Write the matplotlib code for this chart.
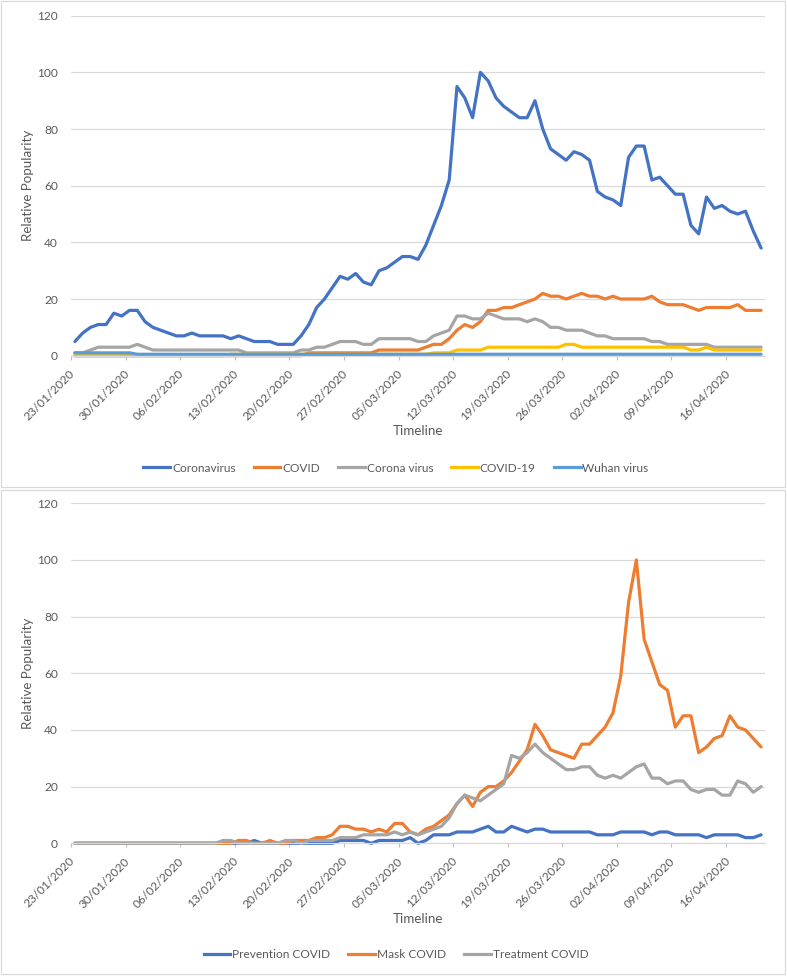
import numpy as np
import pandas as pd
import matplotlib
matplotlib.use("Agg")
import matplotlib.pyplot as plt
from matplotlib.lines import Line2D
from matplotlib.patches import Rectangle
from matplotlib.transforms import ScaledTranslation

plt.rcParams['font.family'] = ['Lato', 'DejaVu Sans']

############################(data)############################
dates = pd.date_range('2020-01-23', periods=89, freq='D')
tick_every = 7

# top chart - search terms
coronavirus = [5, 8, 10, 11, 11, 15, 14, 16, 16, 12, 10, 9, 8, 7, 7, 8, 7, 7, 7, 7, 6, 7,
               6, 5, 5, 5, 4, 4,
               4, 7, 11, 17, 20, 24, 28, 27, 29, 26, 25, 30, 31, 33, 35, 35, 34, 39, 46, 53, 62,
               95, 91, 84, 100, 97, 91, 88, 86, 84, 84, 90, 80, 73, 71, 69, 72, 71, 69, 58, 56,
               55, 53, 70, 74, 74, 62, 63, 60, 57, 57, 46, 43, 56, 52, 53, 51, 50, 51, 44, 38]
covid = [0] * 30 + [1] * 9 + [2] * 6 + \
        [3, 4, 4, 6, 9, 11, 10, 12, 16, 16, 17, 17, 18, 19, 20, 22, 21, 21, 20, 21,
         22, 21, 21, 20, 21, 20, 20, 20, 20, 21, 19, 18, 18, 18, 17, 16, 17, 17, 17, 17,
         18, 16, 16, 16]
corona_virus = [1, 1, 2, 3, 3, 3, 3, 3, 4, 3, 2,
                2, 2, 2, 2, 2, 2, 2, 2, 2, 2, 2,
                1, 1, 1, 1, 1, 1, 1,
                2, 2, 3, 3, 4, 5, 5, 5, 4, 4, 6, 6, 6, 6, 6, 5, 5, 7, 8, 9,
                14, 14, 13, 13, 15, 14, 13, 13, 13, 12, 13, 12, 10, 10, 9, 9, 9, 8, 7, 7,
                6, 6, 6, 6, 6, 5, 5, 4, 4, 4, 4, 4, 4, 3, 3, 3, 3, 3, 3, 3]
covid_19 = [0] * 20 + [0.5] * 26 + [1, 1, 1, 2, 2, 2, 2] + [3] * 10 + [4, 4] + [3] * 14 + \
           [2, 2, 3, 2, 2, 2, 2, 2, 2, 2]
wuhan_virus = [1] * 8 + [0.5] * 81

# bottom chart - search terms
prevention = [0] * 23 + [1] + [0] * 10 + [1, 1, 1, 1, 0, 1, 1, 1, 1, 2, 0, 1, 3, 3, 3, 4, 4, 4,
              5, 6, 4, 4, 6, 5, 4, 5, 5, 4, 4, 4, 4, 4, 4, 3, 3, 3, 4, 4, 4, 4, 3, 4, 4,
              3, 3, 3, 3, 2, 3, 3, 3, 3, 2, 2, 3]
mask = [0] * 21 + [1, 1, 0, 0, 1, 0, 0, 1, 1, 1, 2, 2, 3, 6, 6, 5, 5, 4, 5, 4, 7, 7, 4, 3, 5,
        6, 8, 10, 14, 17, 13, 18, 20, 20, 22, 25, 29, 33, 42, 38, 33, 32, 31, 30, 35, 35,
        38, 41, 46, 59, 85, 100, 72, 64, 56, 54, 41, 45, 45, 32, 34, 37, 38, 45, 41, 40, 37, 34]
treatment = [0] * 19 + [1, 1, 0, 0, 0, 0, 0, 0, 1, 1, 0, 1, 1, 1, 1, 2, 2, 2, 3, 3, 3, 3, 4, 3,
             4, 3, 4, 5, 6, 9, 14, 17, 16, 15, 17, 19, 21, 31, 30, 32, 35, 32, 30, 28, 26,
             26, 27, 27, 24, 23, 24, 23, 25, 27, 28, 23, 23, 21, 22, 22, 19, 18, 19, 19, 17,
             17, 22, 21, 18, 20]

top_names = ['Coronavirus', 'COVID', 'Corona virus', 'COVID-19', 'Wuhan virus']
bottom_names = ['Prevention COVID', 'Mask COVID', 'Treatment COVID']

############################(style)############################
W, H = 787, 976
TXT = '#595959'
GRID = '#D9D9D9'
top_colors = ['#4472C4', '#ED7D31', '#A5A5A5', '#FFC000', '#5B9BD5']
bottom_colors = ['#4472C4', '#ED7D31', '#A5A5A5']

fig = plt.figure(figsize=(W / 100, H / 100), dpi=100)
fig.patch.set_facecolor('white')


def px_axes(l, t, r, b):
    return fig.add_axes([l / W, 1 - b / H, (r - l) / W, (b - t) / H])


def chart_box(t, b):
    fig.patches.append(Rectangle((1 / W, 1 - b / H), 784 / W, (b - t) / H,
                                 transform=fig.transFigure, fill=False,
                                 ec=GRID, lw=0.9))


def draw_panel(ax, series, names, colors, legend_y):
    x = np.arange(len(dates))
    for vals, c in zip(series, colors):
        ax.plot(x, vals, color=c, lw=2.3, solid_joinstyle='round',
                solid_capstyle='round', clip_on=False)

    ax.set_xlim(-0.5, len(dates) - 0.5)
    ax.set_ylim(0, 120)
    ax.set_yticks(range(0, 121, 20))

    pos = np.arange(0, len(dates), tick_every)
    ax.set_xticks(pos - 0.5)
    ax.set_xticklabels([dates[p].strftime('%d/%m/%Y') for p in pos],
                       rotation=45, ha='right', va='center', rotation_mode='anchor')
    ax.tick_params(axis='x', length=3, width=0.8, color='#BFBFBF', pad=7,
                   labelsize=8.6, labelcolor=TXT)
    ax.tick_params(axis='y', length=0, pad=9.4, labelsize=8.6, labelcolor=TXT)
    # nudge rotated labels a little right/down, like excel
    shift = ScaledTranslation(2 / 100, -2 / 100, fig.dpi_scale_trans)
    for lab in ax.get_xticklabels():
        lab.set_transform(lab.get_transform() + shift)

    for s in ['top', 'right', 'left']:
        ax.spines[s].set_visible(False)
    ax.spines['bottom'].set_color(GRID)
    ax.spines['bottom'].set_linewidth(0.9)
    ax.yaxis.grid(True, color=GRID, lw=0.9)
    ax.set_axisbelow(True)

    ax.set_ylabel('Relative Popularity', fontsize=9.6, color=TXT)
    ax.yaxis.set_label_coords((28 - 71) / 694, 0.5)
    ax.yaxis.label.set_va('center')
    ax.set_xlabel('Timeline', fontsize=9.6, color=TXT)
    ax.xaxis.set_label_coords(0.5, (355.7 - 431) / 340)
    ax.xaxis.label.set_va('center')

    handles = [Line2D([], [], color=c, lw=2.3) for c in colors]
    fig.legend(handles, names, loc='center', bbox_to_anchor=(396 / W, 1 - legend_y / H),
               ncol=len(names), frameon=False, fontsize=8.6, labelcolor=TXT,
               handlelength=2.25, handletextpad=0.15, columnspacing=1.5)


chart_box(1, 487)
chart_box(490, 974)

ax1 = px_axes(71, 15.7, 765, 355.7)
draw_panel(ax1, [coronavirus, covid, corona_virus, covid_19, wuhan_virus],
           top_names, top_colors, 468)

ax2 = px_axes(71, 503.3, 765, 843.3)
draw_panel(ax2, [prevention, mask, treatment], bottom_names, bottom_colors, 955)

fig.savefig('out.png', dpi=100, facecolor='white')
